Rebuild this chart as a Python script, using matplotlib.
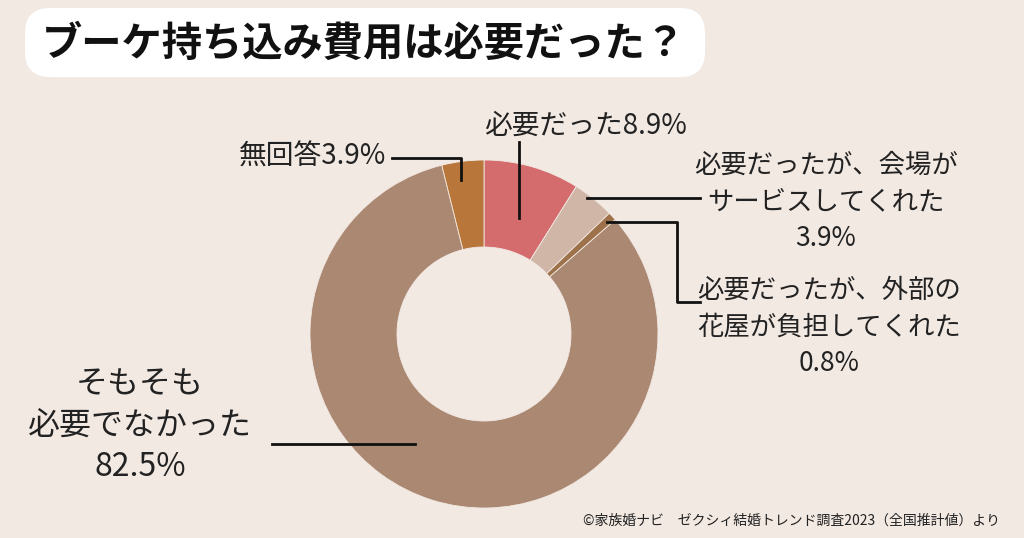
import matplotlib
matplotlib.use("Agg")
from matplotlib import pyplot as plt
from matplotlib.patches import FancyBboxPatch

plt.rcParams["font.family"] = ["Noto Sans CJK JP", "DejaVu Sans"]

title = "ブーケ持ち込み費用は必要だった？"
labels = ["必要だった", "必要だったが、会場が\nサービスしてくれた", "必要だったが、外部の\n花屋が負担してくれた",
          "そもそも\n必要でなかった", "無回答"]
values = [8.9, 3.9, 0.8, 82.5, 3.9]
colors = ["#D46B6D", "#CFB6A7", "#9D7149", "#AB8872", "#B8763A"]
source = "©家族婚ナビ　ゼクシィ結婚トレンド調査2023（全国推計値）より"

bg = "#F2E9E3"
W, H = 1024, 538
fig = plt.figure(figsize=(W / 100, H / 100), dpi=100)
fig.patch.set_facecolor(bg)
ax = fig.add_axes([0, 0, 1, 1])
ax.set_facecolor(bg)

# pixel coords, y flipped
def py(y):
    return H - y

cx, cy, r = 484, py(334), 174
ax.pie(values, colors=colors, startangle=90, counterclock=False, center=(cx, cy), radius=r,
       wedgeprops=dict(width=r * 0.5, edgecolor=bg, linewidth=0.6))
ax.set_xlim(0, W)
ax.set_ylim(0, H)
ax.set_aspect("equal")
ax.axis("off")

# title box
box = FancyBboxPatch((25, py(77)), 680, 69, boxstyle="round,pad=0,rounding_size=25",
                     facecolor="white", edgecolor="none")
ax.add_patch(box)
ax.text(364, py(44), title, fontsize=29, fontweight="bold", ha="center", va="center", color="#111")

tc = "#222"
lw = 2
fs = 20
# 必要だった
ax.text(586, py(126), f"{labels[0]}{values[0]}%", fontsize=fs, ha="center", va="center", color=tc)
ax.plot([519, 519], [py(142), py(218)], color="#111", lw=lw)
# 会場
ax.text(826, py(202), f"{labels[1]}\n{values[1]}%", fontsize=19, ha="center", va="center",
        color=tc, linespacing=1.45)
ax.plot([587, 700], [py(198), py(198)], color="#111", lw=lw)
# 花屋
ax.text(829, py(327), f"{labels[2]}\n{values[2]}%", fontsize=19, ha="center", va="center",
        color=tc, linespacing=1.45)
ax.plot([607, 677, 677, 700], [py(222), py(222), py(302), py(302)], color="#111", lw=lw)
# そもそも
ax.text(140, py(426), f"{labels[3]}\n{values[3]}%", fontsize=23, ha="center", va="center",
        color=tc, linespacing=1.38)
ax.plot([272, 415], [py(444), py(444)], color="#111", lw=lw)
# 無回答
ax.text(386, py(157), f"{labels[4]}{values[4]}%", fontsize=fs, ha="right", va="center", color=tc)
ax.plot([392, 461, 461], [py(158), py(158), py(180)], color="#111", lw=lw)

ax.text(1000, py(521), source, fontsize=10, ha="right", va="center", color=tc)

fig.savefig("out.png", dpi=100, facecolor=bg)
